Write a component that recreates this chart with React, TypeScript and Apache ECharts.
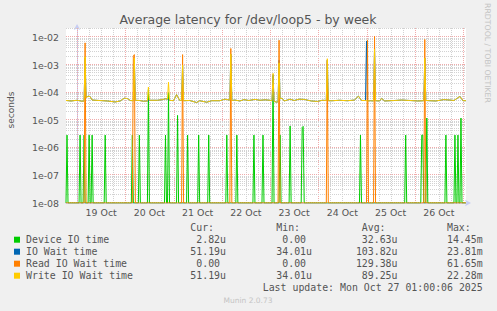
import React, { useEffect, useRef } from "react";
import * as echarts from "echarts";

// ---------- texts ----------
const TITLE = "Average latency for /dev/loop5 - by week";
const Y_UNIT = "seconds";
const WATERMARK = "RRDTOOL / TOBI OETIKER";
const FOOTER = "Munin 2.0.73";
const LAST_UPDATE = "Last update: Mon Oct 27 01:00:06 2025";

// ---------- x axis (hours since 19 Oct 00:00, 30 min samples) ----------
const dayLabels = ["19 Oct", "20 Oct", "21 Oct", "22 Oct", "23 Oct", "24 Oct", "25 Oct", "26 Oct"];
const dayLabelHours = [12, 36, 60, 84, 108, 132, 156, 180];
const xStart = -5.5;
const xEnd = 193.5;
const sampleStep = 0.5;

// ---------- y axis ----------
const yMin = 1e-8;
const yMax = 0.0221;

// ---------- series ----------
const seriesNames = ["Device IO time", "IO Wait time", "Read IO Wait time", "Write IO Wait time"];
const seriesColors = ["#00CC00", "#0066B3", "#FF8000", "#FFCC00"];

// Write IO wait: baseline readings (hour, seconds)
const writeBase: [number, number][] = [
  [-5.5, 5.2e-5], [-3, 5.0e-5], [0, 5.3e-5], [2.5, 4.9e-5], [3.5, 5.0e-5], [4.5, 6.5e-5],
  [5.5, 7.5e-5], [6.5, 7.2e-5], [7.5, 5.4e-5], [11, 5.2e-5], [15, 5.0e-5], [19, 4.6e-5],
  [21.5, 5.0e-5], [23.5, 6.3e-5], [25, 6.1e-5], [26.5, 5.2e-5], [28, 5.1e-5], [29, 5.3e-5],
  [31, 5.2e-5], [33, 4.9e-5], [35, 5.0e-5], [36, 5.3e-5], [40, 5.3e-5], [42.5, 5.6e-5],
  [44, 6.0e-5], [45, 5.8e-5], [46, 5.3e-5], [48, 5.1e-5], [49.5, 8.5e-5], [51, 5.3e-5],
  [52, 5.2e-5], [53, 5.1e-5], [56, 5.2e-5], [59.5, 4.4e-5], [61, 5.1e-5], [64.5, 4.5e-5],
  [67, 5.1e-5], [71, 5.1e-5], [73.5, 5.8e-5], [76, 5.4e-5], [77, 5.2e-5], [78.5, 5.4e-5],
  [81, 5.0e-5], [83, 5.6e-5], [85.5, 5.2e-5], [88.5, 5.7e-5], [91, 5.3e-5], [93.5, 5.5e-5],
  [96, 5.3e-5], [97, 5.1e-5], [98, 4.8e-5], [99.5, 4.5e-5], [100, 4.8e-5], [101, 6.0e-5],
  [102, 6.3e-5], [103, 5.0e-5], [106, 5.8e-5], [108, 5.2e-5], [110.5, 5.8e-5], [113, 5.7e-5],
  [116.5, 5.0e-5], [119.5, 4.8e-5], [122, 5.3e-5], [124, 5.2e-5], [125, 5.1e-5], [127, 5.1e-5],
  [130.5, 5.3e-5], [134.5, 5.1e-5], [138, 5.4e-5], [140, 7.5e-5], [141.5, 5.2e-5], [143.5, 5.2e-5],
  [144.5, 5.0e-5], [146, 5.1e-5], [147.5, 5.0e-5], [148.5, 5.1e-5], [150.5, 5.0e-5], [151.5, 6.2e-5],
  [153, 5.0e-5], [158, 5.2e-5], [161.5, 5.4e-5], [165.5, 5.2e-5], [169.5, 5.0e-5], [172.5, 5.1e-5],
  [173.5, 5.2e-5], [175.5, 5.1e-5], [178.5, 5.0e-5], [182.5, 5.6e-5], [185.5, 5.4e-5], [187.5, 5.2e-5],
  [190.5, 7.3e-5], [192, 5.1e-5], [193.5, 5.12e-5],
];
const writePeaks: [number, number][] = [
  [4, 2.0e-3], [28.5, 1.8e-3], [35.5, 1.6e-4], [45.5, 2.4e-4], [52.5, 1.0e-3], [76.5, 2.5e-3],
  [97.5, 5.0e-4], [100.5, 1.2e-3], [124.5, 1.7e-3], [148, 3.8e-3], [173, 1.8e-3],
];
const ioWaitPeaks: [number, number][] = [
  [4, 1.8e-3], [28.5, 1.6e-3], [52.5, 1.0e-3], [76.5, 2.5e-3], [97.5, 4.5e-4], [100.5, 1.5e-3],
  [124.5, 1.5e-3], [144, 7.5e-3], [148, 4.0e-3], [173, 1.8e-3],
];
// Read IO wait: 0 except at these samples
const readPeaks: [number, number][] = [
  [4, 6.4e-3], [28, 2.1e-3], [28.5, 2.4e-3], [52.5, 2.4e-3], [76.5, 4.0e-3], [100.5, 8.0e-3],
  [124.5, 1.5e-3], [144.5, 8.2e-3], [148, 1.1e-2], [173, 8.5e-3],
];
// Device IO time: 0 except at these samples
const devicePeaks: [number, number][] = [
  [-5, 2.9e-6], [1.5, 2.9e-6], [3.5, 2.9e-6], [6, 2.9e-6], [7.5, 2.9e-6], [14, 2.9e-6],
  [27.5, 2.9e-6], [31, 2.9e-6], [35.5, 1.3e-4], [44, 2.9e-6], [45.5, 1.0e-4], [50, 1.5e-5],
  [55, 2.9e-6], [60.5, 2.9e-6], [65.5, 2.9e-6], [74.5, 2.9e-6], [79.5, 2.9e-6], [88, 2.9e-6],
  [92.5, 2.9e-6], [97.5, 4.0e-4], [101, 2.9e-6], [106, 6.2e-6], [112, 5.5e-6], [112.5, 6.0e-6],
  [141, 2.9e-6], [163.5, 2.9e-6], [171.5, 2.9e-6], [172, 2.9e-6], [174, 1.2e-5], [183.5, 2.9e-6],
  [188, 2.9e-6], [189.5, 2.9e-6], [191, 1.2e-5],
];

// ---------- legend values ----------
const curValues = ["2.82u", "51.19u", "0.00", "51.19u"];
const minValues = ["0.00", "34.01u", "0.00", "34.01u"];
const avgValues = ["32.63u", "103.82u", "129.38u", "89.25u"];
const maxValues = ["14.45m", "23.81m", "61.65m", "22.28m"];
const legendHeaders = ["Cur:", "Min:", "Avg:", "Max:"];

// ---------- helpers ----------
const merge = (base: [number, number][], peaks: [number, number][]) => {
  const ph = new Set(peaks.map((p) => p[0]));
  return [...base.filter((p) => !ph.has(p[0])), ...peaks].sort((a, b) => a[0] - b[0]);
};
const sampled = (peaks: [number, number][]) => {
  const m = new Map(peaks.map((p) => [p[0], p[1]]));
  const out: [number, number][] = [];
  for (let i = 0; ; i++) {
    const h = xStart + i * sampleStep;
    if (h > xEnd + 1e-9) break;
    out.push([h, m.has(h) ? (m.get(h) as number) : 0]);
  }
  return out;
};
// values <= 0 sit on the bottom of a log axis (as rrdtool draws them)
const forLog = (pts: [number, number][]) => pts.map((p) => [p[0], Math.max(p[1], yMin)]);

const seriesData = [
  forLog(sampled(devicePeaks)),
  forLog(merge(writeBase, ioWaitPeaks)),
  forLog(sampled(readPeaks)),
  forLog(merge(writeBase, writePeaks)),
];

// grid lines: [x, y, kind]  kind 0 minor vertical, 1 major vertical, 2 minor horizontal, 3 major horizontal
const gridLines: number[][] = [];
for (let h = 0; h <= xEnd; h += 6) gridLines.push([h, yMin, h % 24 === 0 ? 1 : 0]);
for (let e = -8; e <= -2; e++) {
  for (let m = 1; m <= 9; m++) {
    const v = m * Math.pow(10, e);
    if (v <= yMax) gridLines.push([xStart, v, m === 1 ? 3 : 2]);
  }
}

const MINOR = "#d2d2d2";
const MAJOR = "#f0abab";
const AXIS = "#c7cdf3";
const TEXT = "#555555";
const SANS = "'DejaVu Sans', Verdana, sans-serif";
const MONO = "'DejaVu Sans Mono', monospace";

const CHAR_W = 5.96;
const colRight = [226, 312, 397.5, 482.7];
const rowY0 = 239.7;
const rowStep = 12;

function buildGraphic() {
  const g: any[] = [];
  g.push({
    type: "text", x: 248, y: 19.8, silent: true,
    style: { text: TITLE, fill: TEXT, fontFamily: SANS, fontSize: 12.5, align: "center", verticalAlign: "middle" },
  });
  g.push({
    type: "text", x: 10.8, y: 110, rotation: Math.PI / 2, silent: true,
    style: { text: Y_UNIT, fill: TEXT, fontFamily: SANS, fontSize: 9, align: "center", verticalAlign: "middle" },
  });
  g.push({
    type: "text", x: 487.5, y: 53, rotation: -Math.PI / 2, silent: true,
    style: { text: WATERMARK, fill: "#c4c4c4", fontFamily: SANS, fontSize: 7.75, align: "center", verticalAlign: "middle" },
  });
  g.push({
    type: "text", x: 248, y: 300, silent: true,
    style: { text: FOOTER, fill: "#c4c4c4", fontFamily: SANS, fontSize: 7.5, align: "center", verticalAlign: "middle" },
  });
  legendHeaders.forEach((h, c) => {
    g.push({
      type: "text", x: colRight[c] - 6 * CHAR_W, y: rowY0 - rowStep, silent: true,
      style: { text: h, fill: TEXT, fontFamily: MONO, fontSize: 9.9, align: "left", verticalAlign: "middle" },
    });
  });
  const cols = [curValues, minValues, avgValues, maxValues];
  seriesNames.forEach((name, i) => {
    const y = rowY0 + i * rowStep;
    g.push({ type: "rect", silent: true, shape: { x: 14, y: y - 3, width: 6, height: 6 }, style: { fill: seriesColors[i] } });
    g.push({
      type: "text", x: 26, y, silent: true,
      style: { text: name, fill: TEXT, fontFamily: MONO, fontSize: 9.9, align: "left", verticalAlign: "middle" },
    });
    cols.forEach((col, c) => {
      const s = col[i];
      const txt = /[0-9]$/.test(s) ? s + "\u00a0" : s;
      g.push({
        type: "text", x: colRight[c], y, silent: true,
        style: { text: txt, fill: TEXT, fontFamily: MONO, fontSize: 9.9, align: "right", verticalAlign: "middle" },
      });
    });
  });
  g.push({
    type: "text", x: colRight[3], y: rowY0 + 4 * rowStep, silent: true,
    style: { text: LAST_UPDATE, fill: TEXT, fontFamily: MONO, fontSize: 9.9, align: "right", verticalAlign: "middle" },
  });
  return g;
}

function buildOption() {
  const lineSeries = seriesNames.map((name, i) => ({
    name,
    type: "line",
    data: seriesData[i],
    showSymbol: false,
    symbol: "none",
    clip: true,
    silent: true,
    z: 3 + i,
    lineStyle: { width: 1, color: seriesColors[i] },
    emphasis: { disabled: true },
  }));
  return {
    animation: false,
    backgroundColor: "#f0f0f0",
    grid: { left: 66, top: 28, width: 400, height: 175, show: true, backgroundColor: "#ffffff", borderWidth: 0 },
    xAxis: {
      type: "value",
      min: xStart,
      max: xEnd,
      axisLine: { show: true, lineStyle: { color: AXIS, width: 1 }, symbol: ["none", "arrow"], symbolSize: [5, 6], symbolOffset: [0, 5] },
      axisTick: { show: false },
      splitLine: { show: false },
      axisLabel: {
        customValues: dayLabelHours,
        formatter: (v: number) => {
          const k = dayLabelHours.indexOf(v);
          return k >= 0 ? dayLabels[k] : "";
        },
        color: TEXT,
        fontFamily: SANS,
        fontSize: 9.4,
        margin: 5,
      },
    },
    yAxis: {
      type: "log",
      logBase: 10,
      min: yMin,
      max: yMax,
      axisLine: { show: true, lineStyle: { color: AXIS, width: 1 }, symbol: ["none", "arrow"], symbolSize: [5, 6], symbolOffset: [0, 4] },
      axisTick: { show: false },
      splitLine: { show: false },
      minorTick: { show: false },
      axisLabel: {
        showMaxLabel: false,
        formatter: (v: number) => {
          const e = Math.log10(v);
          const r = Math.round(e);
          if (Math.abs(e - r) > 1e-6) return "";
          return "1e" + (r < 0 ? "-" : "+") + String(Math.abs(r)).padStart(2, "0");
        },
        color: TEXT,
        fontFamily: SANS,
        fontSize: 9.4,
        margin: 7,
      },
    },
    series: [
      {
        type: "custom",
        name: "grid",
        silent: true,
        z: 1,
        data: gridLines,
        encode: { x: 0, y: 1 },
        renderItem: (params: any, api: any) => {
          const cs = params.coordSys;
          const kind = api.value(2);
          const style = { stroke: kind === 1 || kind === 3 ? MAJOR : MINOR, lineWidth: 1, lineDash: [1, 1], fill: null };
          if (kind <= 1) {
            const x = Math.round(api.coord([api.value(0), yMin])[0]) + 0.5;
            return { type: "line", shape: { x1: x, y1: cs.y, x2: x, y2: cs.y + cs.height }, style };
          }
          const y = Math.round(api.coord([xStart, api.value(1)])[1]) - 0.5;
          return { type: "line", shape: { x1: cs.x, y1: y, x2: cs.x + cs.width, y2: y }, style };
        },
      },
      ...lineSeries,
    ],
    graphic: buildGraphic(),
  };
}

export default function App() {
  const ref = useRef<HTMLDivElement>(null);
  useEffect(() => {
    const el = ref.current as HTMLDivElement;
    const chart = echarts.init(el, null, { renderer: "svg", width: 497, height: 311 });
    chart.setOption(buildOption() as any);
    return () => chart.dispose();
  }, []);
  return <div ref={ref} style={{ position: "absolute", left: 0, top: 0, width: 497, height: 311 }} />;
}
